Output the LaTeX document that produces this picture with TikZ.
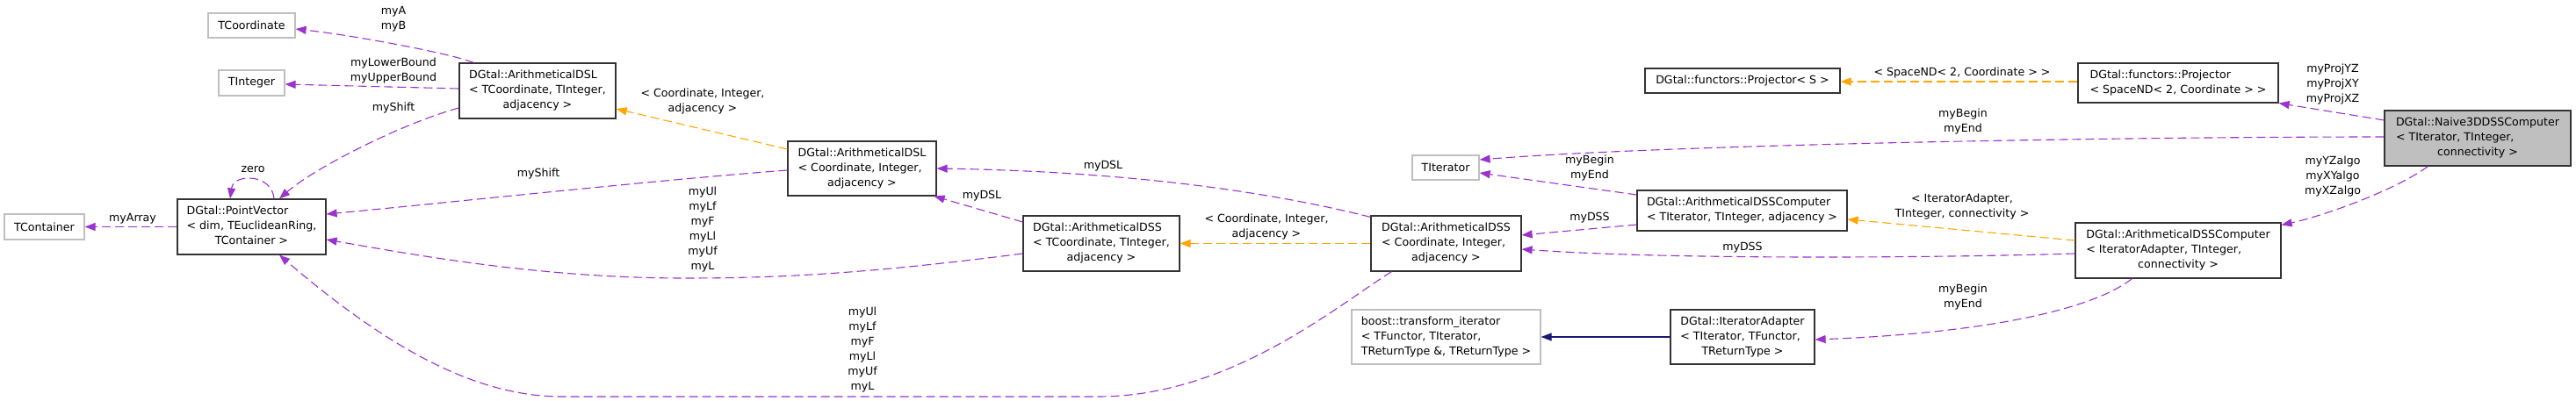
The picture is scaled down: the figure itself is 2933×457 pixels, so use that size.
\documentclass[tikz,border=0pt]{standalone}
\usepackage{fontspec}
\setmainfont{DejaVu Sans}
\usetikzlibrary{arrows.meta,calc}
\definecolor{purp}{HTML}{9A32CD}
\definecolor{orng}{HTML}{FFA500}
\definecolor{mblue}{HTML}{191970}
\definecolor{extgray}{HTML}{BFBFBF}
\definecolor{curgray}{HTML}{BFBFBF}
\definecolor{boxline}{HTML}{333333}
\newcommand{\fs}{\fontsize{12.6}{17}\selectfont}
\newcommand{\lcbox}[2]{\begin{tabular}{@{}l@{}}#1\\\multicolumn{1}{@{}c@{}}{#2}\end{tabular}}
\newcommand{\lbox}[1]{\begin{tabular}{@{}l@{}}#1\end{tabular}}
\begin{document}
\begin{tikzpicture}[x=1pt,y=-1pt,
  cls/.style={draw=boxline, line width=1.2pt, fill=white, inner sep=0pt, font=\fs},
  extcls/.style={draw=extgray, line width=1.2pt, fill=white, inner sep=0pt, font=\fs},
  curcls/.style={draw=boxline, line width=1.2pt, fill=curgray, inner sep=0pt, font=\fs},
  member/.style={draw=purp, line width=1.1pt, dash pattern=on 10pt off 5pt, -{Triangle[length=12pt,width=9pt]}},
  tmpl/.style={draw=orng, line width=1.1pt, dash pattern=on 10pt off 5pt, -{Triangle[length=12pt,width=9pt]}},
  inh/.style={draw=mblue, line width=1.1pt, -{Triangle[length=12pt,width=9pt]}},
  lab/.style={font=\fs, align=center, inner sep=0pt, text=black}
]
\useasboundingbox (0,0) rectangle (2933,457);

% nodes
\node[extcls, minimum width=99pt, minimum height=28pt] (tcoord) at (286.5,29) {TCoordinate};
\node[extcls, minimum width=75pt, minimum height=29pt] (tint) at (286.5,94.5) {TInteger};
\node[cls, minimum width=169pt, minimum height=63pt] (pv) at (286.5,258.5) {\lcbox{DGtal::PointVector\\< dim, TEuclideanRing,}{TContainer >}};
\node[extcls, minimum width=91pt, minimum height=29pt] (tcont) at (50.5,258.5) {TContainer};
\node[cls, minimum width=178pt, minimum height=63pt] (dsltc) at (612,103.5) {\lcbox{DGtal::ArithmeticalDSL\\< TCoordinate, TInteger,}{adjacency >}};
\node[cls, minimum width=169pt, minimum height=62pt] (dslc) at (981.5,192) {\lcbox{DGtal::ArithmeticalDSL\\< Coordinate, Integer,}{adjacency >}};
\node[cls, minimum width=178pt, minimum height=63pt] (dsstc) at (1254,277.5) {\lcbox{DGtal::ArithmeticalDSS\\< TCoordinate, TInteger,}{adjacency >}};
\node[cls, minimum width=171pt, minimum height=63pt] (dssc) at (1646.5,277.5) {\lcbox{DGtal::ArithmeticalDSS\\< Coordinate, Integer,}{adjacency >}};
\node[extcls, minimum width=76pt, minimum height=28pt] (titer) at (1646,191) {TIterator};
\node[cls, minimum width=239pt, minimum height=46pt] (dsscti) at (1983.5,240) {\lbox{DGtal::ArithmeticalDSSComputer\\< TIterator, TInteger, adjacency >}};
\node[extcls, minimum width=215pt, minimum height=62pt] (boost) at (1646.5,384) {\lcbox{boost::transform\_iterator\\< TFunctor, TIterator,}{TReturnType \&, TReturnType >}};
\node[cls, minimum width=164pt, minimum height=62pt] (itad) at (1984,384) {\lcbox{DGtal::IteratorAdapter\\< TIterator, TFunctor,}{TReturnType >}};
\node[cls, minimum width=222pt, minimum height=28pt] (projs) at (1984,92) {DGtal::functors::Projector< S >};
\node[cls, minimum width=228pt, minimum height=45pt] (projsp) at (2480,94.5) {\lbox{DGtal::functors::Projector\\< SpaceND< 2, Coordinate > >}};
\node[curcls, minimum width=212pt, minimum height=63pt] (naive) at (2821,157.5) {\lcbox{DGtal::Naive3DDSSComputer\\< TIterator, TInteger,}{connectivity >}};
\node[cls, minimum width=234pt, minimum height=63pt] (dsscia) at (2480,285.5) {\lcbox{DGtal::ArithmeticalDSSComputer\\< IteratorAdapter, TInteger,}{connectivity >}};

% edges
\draw[member] ($(dsltc.north west)+(17,0)$) .. controls (510,60) and (400,40) .. ($(tcoord.east)+(0,4)$);
\draw[member] ($(dsltc.west)+(0,-2.5)$) -- ($(tint.east)+(0,1.5)$);
\draw[member] ($(dsltc.west)+(0,19.5)$) .. controls (460,140) and (360,190) .. ($(pv.north)+(31.5,0)$);
\draw[member] ($(pv.north)+(25.5,0)$) .. controls (310,198) and (266,197) .. ($(pv.north)+(-24.5,0)$);
\draw[member] (pv.west) -- (tcont.east);
\draw[member] ($(dslc.west)+(0,2)$) .. controls (750,205) and (500,232) .. ($(pv.east)+(0,-14.5)$);
\coordinate (v7) at (780,317);
\draw[member] ($(dsstc.west)+(0,11.5)$) .. controls (1000,310) and (900,317) .. (v7) .. controls (620,317) and (480,292) .. ($(pv.east)+(0,14.5)$);
\coordinate (v8a) at (1250,452);
\coordinate (v8b) at (640,452);
\draw[member] ($(dssc.south west)+(24,0)$) .. controls (1520,350) and (1400,452) .. (v8a) -- (v8b) .. controls (540,452) and (440,395) .. ($(pv.south)+(31.5,0)$);
\draw[tmpl] ($(dslc.west)+(0,-22)$) -- ($(dsltc.east)+(0,20.5)$);
\draw[member] ($(dsstc.west)+(0,-24.5)$) -- ($(dslc.south east)+(-3,0)$);
\draw[member] ($(dssc.north west)+(0,2)$) .. controls (1420,212) and (1250,195) .. (dslc.east);
\draw[tmpl] (dssc.west) -- (dsstc.east);
\draw[member] ($(dsscti.west)+(0,-18)$) -- ($(titer.east)+(0,6)$);
\draw[member] ($(dsscti.west)+(0,16)$) -- ($(dssc.east)+(0,-9.5)$);
\draw[member] ($(naive.west)+(0,-1.5)$) .. controls (2400,156) and (1900,165) .. ($(titer.east)+(0,-9)$);
\draw[member] ($(naive.west)+(0,-20.5)$) -- (projsp.south east);
\draw[tmpl] ($(projsp.west)+(0,-1.5)$) -- ($(projs.east)+(0,1)$);
\draw[member] ($(naive.south west)+(50,0)$) .. controls (2730,215) and (2650,245) .. ($(dsscia.north east)+(0,3)$);
\draw[tmpl] ($(dsscia.west)+(0,-11.5)$) -- ($(dsscti.east)+(0,10)$);
\draw[member] ($(dsscia.west)+(0,3.5)$) .. controls (2200,294) and (1900,296) .. ($(dssc.east)+(0,6.5)$);
\draw[member] ($(dsscia.south west)+(65,0)$) .. controls (2380,355) and (2250,380) .. ($(itad.east)+(0,3)$);
\draw[inh] (itad.west) -- (boost.east);

% labels
\node[lab] (l1) at (448,22) {myA\\myB};
\node[lab] (l2) at (448,80.5) {myLowerBound\\myUpperBound};
\node[lab] (l3) at (448,123) {myShift};
\node[lab] (l4) at (288,193) {zero};
\node[lab] (l5) at (151,249) {myArray};
\node[lab] (l6) at (800,115.5) {< Coordinate, Integer,\\adjacency >};
\node[lab] (l7) at (613,198) {myShift};
\node[lab] (l8) at (800,261.5) {myUl\\myLf\\myF\\myLl\\myUf\\myL};
\node[lab] (l9) at (982,399) {myUl\\myLf\\myF\\myLl\\myUf\\myL};
\node[lab] (l10) at (1256,189) {myDSL};
\node[lab] (l11) at (1118,223) {myDSL};
\node[lab] (l12) at (1442,258.5) {< Coordinate, Integer,\\adjacency >};
\node[lab] (l13) at (1810,191.5) {myBegin\\myEnd};
\node[lab] (l14) at (1810,248) {myDSS};
\node[lab] (l15) at (1984,282) {myDSS};
\node[lab] (l16) at (2234,235.5) {< IteratorAdapter,\\TInteger, connectivity >};
\node[lab] (l17) at (2234,83) {< SpaceND< 2, Coordinate > >};
\node[lab] (l18) at (2235,139) {myBegin\\myEnd};
\node[lab] (l19) at (2656,96) {myProjYZ\\myProjXY\\myProjXZ};
\node[lab] (l20) at (2656,201) {myYZalgo\\myXYalgo\\myXZalgo};
\node[lab] (l21) at (2235,339) {myBegin\\myEnd};
\end{tikzpicture}
\end{document}
